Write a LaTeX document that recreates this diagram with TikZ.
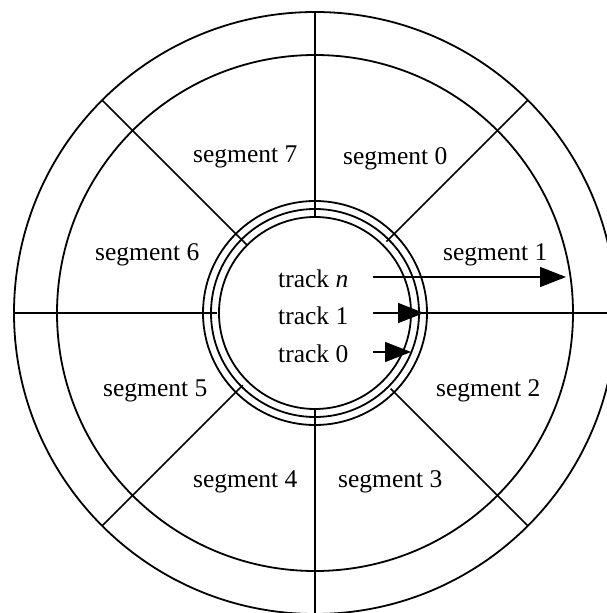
\documentclass[tikz,border=0pt]{standalone}
\usepackage{fontspec}
\setmainfont{Liberation Serif}
\usepackage{tikz}
\usetikzlibrary{arrows.meta}
\usetikzlibrary{calc,positioning}

\tikzset{
  ring/.style={line width=1.8pt},
  segline/.style={line width=1.5pt},
  lbl/.style={anchor=base west, inner sep=0pt, font=\fontsize{25.5pt}{30pt}\selectfont},
  trackarrow/.style={line width=1.5pt, -{Triangle[length=26pt,width=20pt]}}
}

\begin{document}
\begin{tikzpicture}[x=1pt,y=-1pt]

\useasboundingbox (0,0) rectangle (607,613);
\clip (0,0) rectangle (607,613);

\coordinate (c) at (315,313);

% the disk
\draw[ring] (c) circle[radius=301pt];
\draw[ring] (c) circle[radius=258pt];
\foreach \r in {96,104,112}
   \draw[ring] (c) circle[radius=\r pt];

% segment borders
\foreach \a/\r in {0/96,45/101,90/96,135/96,180/98,225/102,270/97,315/107}
   \draw[segline] ($(c)+(\a:\r pt)$) -- ($(c)+(\a:301pt)$);

\path
(193,162) node[lbl] (seg7) {segment 7}
(343,164) node[lbl] (seg0) {segment 0}
(95,260) node[lbl] (seg6) {segment 6}
(443,260) node[lbl] (seg1) {segment 1}
(103,396) node[lbl] (seg5) {segment 5}
(436,396) node[lbl] (seg2) {segment 2}
(193,487) node[lbl] (seg4) {segment 4}
(338,487) node[lbl] (seg3) {segment 3};

\path
(278,287) node[lbl] (trn) {track \textit{n}}
(278,324) node[lbl] (tr1) {track 1}
(278,362) node[lbl] (tr0) {track 0};

\coordinate (trnA) at (373,277);
\coordinate (trnB) at (566,277);
\coordinate (tr1A) at (373,313);
\coordinate (tr1B) at (424,313);
\coordinate (tr0A) at (373,352);
\coordinate (tr0B) at (411,352);

\draw[trackarrow] (trnA) -- (trnB);
\draw[trackarrow] (tr1A) -- (tr1B);
\draw[trackarrow] (tr0A) -- (tr0B);

\end{tikzpicture}
\end{document}
